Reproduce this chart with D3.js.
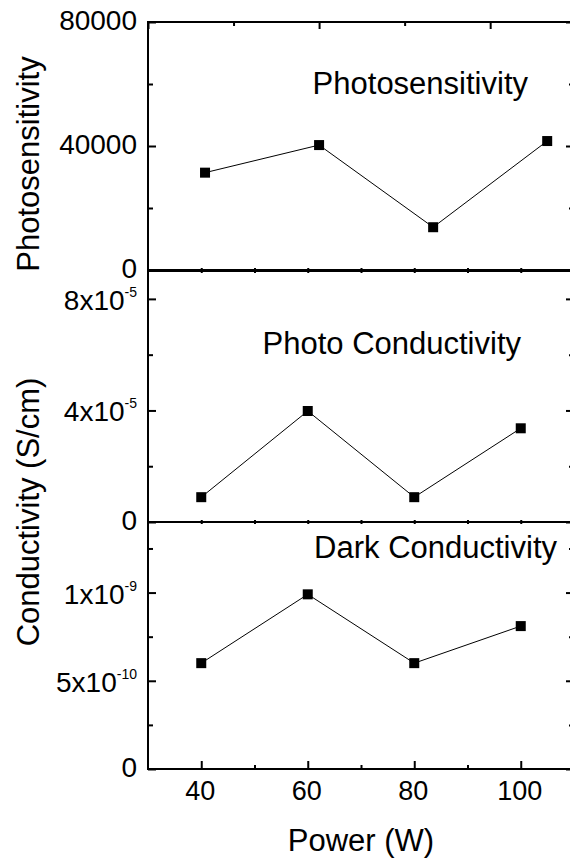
<!DOCTYPE html>
<html>
<head>
<meta charset="utf-8">
<script src="https://cdn.jsdelivr.net/npm/d3@7"></script>
<style>
  html, body { margin: 0; padding: 0; background: #fff; }
  svg { display: block; }
  text { font-family: "Liberation Sans", Arial, sans-serif; fill: #000; }
</style>
</head>
<body>
<svg id="chart" width="570" height="862"></svg>
<script>
// Sputtering power (W) for each sample
const power = [40, 60, 80, 100];

// Photosensitivity (photo / dark conductivity ratio)
const photosensitivity = [31400, 40300, 13800, 41600];
// Photo conductivity (S/cm)
const photoConductivity = [8.9e-6, 3.98e-5, 8.9e-6, 3.36e-5];
// Dark conductivity (S/cm)
const darkConductivity = [6.0e-10, 9.9e-10, 6.0e-10, 8.1e-10];

// Tick labels: [value, mantissa, exponent]
const ticksPhotosens = [[0, "0", null], [40000, "40000", null], [80000, "80000", null]];
const ticksPhotoCond = [[0, "0", null], [4e-5, "4x10", "-5"], [8e-5, "8x10", "-5"]];
const ticksDarkCond  = [[0, "0", null], [5e-10, "5x10", "-10"], [1e-9, "1x10", "-9"]];
const minorPhotosens = [20000, 60000];
const minorPhotoCond = [2e-5, 6e-5];
const minorDarkCond  = [2.5e-10, 7.5e-10, 1.25e-9];

const xMajor = [40, 60, 80, 100];
const xMinor = [50, 70, 90];
const xTopMajor = [30, 60, 90];
const xTopMinor = [45, 75];

const svg = d3.select("#chart");
const left = 148, right = 574;

const x = d3.scaleLinear().domain([30, 110]).range([left, right]);
// the upper panel was plotted on its own horizontal scale
const xTop = d3.scaleLinear().domain([30, 104.7]).range([left, right]);

const panels = [
  { vals: photosensitivity, domain: [0, 80000], range: [270, 22], ticks: ticksPhotosens,
    minor: minorPhotosens, label: "Photosensitivity", labelX: 528, labelY: 94, xs: xTop, top: "own" },
  { vals: photoConductivity, domain: [0, 9e-5], range: [522, 271], ticks: ticksPhotoCond,
    minor: minorPhotoCond, label: "Photo Conductivity", labelX: 521, labelY: 354, xs: x, top: "shared" },
  { vals: darkConductivity, domain: [0, 1.4e-9], range: [769, 522], ticks: ticksDarkCond,
    minor: minorDarkCond, label: "Dark Conductivity", labelX: 557, labelY: 558, xs: x, top: "shared", bottom: true }
];

const yTickFont = 28, xTickFont = 27, supFont = 14, titleFont = 31;

panels.forEach(p => {
  const y = d3.scaleLinear().domain(p.domain).range(p.range);
  const g = svg.append("g");
  const y0 = p.range[0], y1 = p.range[1];

  // left axis: major + minor ticks pointing inward
  g.append("g").attr("transform", `translate(${left},0)`)
    .call(d3.axisLeft(y).tickValues(p.ticks.map(t => t[0])).tickSizeInner(-8).tickSizeOuter(0).tickFormat(""));
  g.append("g").attr("transform", `translate(${left},0)`)
    .call(d3.axisLeft(y).tickValues(p.minor).tickSizeInner(-5).tickSizeOuter(0).tickFormat(""));
  // right axis
  g.append("g").attr("transform", `translate(${right},0)`)
    .call(d3.axisRight(y).tickValues(p.ticks.map(t => t[0])).tickSizeInner(-8).tickSizeOuter(0).tickFormat(""));
  g.append("g").attr("transform", `translate(${right},0)`)
    .call(d3.axisRight(y).tickValues(p.minor).tickSizeInner(-5).tickSizeOuter(0).tickFormat(""));

  // top axis
  if (p.top === "own") {
    g.append("g").attr("transform", `translate(0,${y1})`)
      .call(d3.axisTop(p.xs).tickValues(xTopMajor).tickSizeInner(-7).tickSizeOuter(0).tickFormat(""));
    g.append("g").attr("transform", `translate(0,${y1})`)
      .call(d3.axisTop(p.xs).tickValues(xTopMinor).tickSizeInner(-4).tickSizeOuter(0).tickFormat(""));
  } else {
    g.append("g").attr("transform", `translate(0,${y1})`)
      .call(d3.axisTop(x).tickValues(xMajor.concat(xMinor)).tickSizeInner(-2).tickSizeOuter(0).tickFormat(""));
  }
  // bottom axis
  if (p.bottom) {
    g.append("g").attr("transform", `translate(0,${y0})`)
      .call(d3.axisBottom(x).tickValues(xMajor).tickSizeInner(-8).tickSizeOuter(0).tickFormat(""));
    g.append("g").attr("transform", `translate(0,${y0})`)
      .call(d3.axisBottom(x).tickValues(xMinor).tickSizeInner(-4).tickSizeOuter(0).tickFormat(""));
  } else {
    g.append("g").attr("transform", `translate(0,${y0})`)
      .call(d3.axisBottom(x).tickValues(xMajor.concat(xMinor)).tickSizeInner(-2).tickSizeOuter(0).tickFormat(""));
  }

  g.selectAll(".domain").remove();
  g.selectAll(".tick line").attr("stroke", "#000").attr("stroke-width", 2);

  // frame
  g.append("rect").attr("x", left).attr("y", y1).attr("width", right - left).attr("height", y0 - y1)
    .attr("fill", "none").attr("stroke", "#000").attr("stroke-width", 2);

  // y tick labels with superscript exponents
  p.ticks.forEach(([v, m, e]) => {
    const t = g.append("text")
      .attr("x", left - 11).attr("y", y(v) + (e ? 11 : 8))
      .attr("text-anchor", "end").attr("font-size", yTickFont);
    t.append("tspan").text(m);
    if (e) t.append("tspan").attr("font-size", supFont).attr("dy", -13).text(e);
  });

  // series
  const line = d3.line().x((d, i) => p.xs(power[i])).y(d => y(d));
  g.append("path").datum(p.vals).attr("d", line)
    .attr("fill", "none").attr("stroke", "#000").attr("stroke-width", 1);
  g.selectAll("rect.pt").data(p.vals).enter().append("rect").attr("class", "pt")
    .attr("x", (d, i) => p.xs(power[i]) - 5).attr("y", d => y(d) - 5)
    .attr("width", 10).attr("height", 10).attr("fill", "#000");

  // panel label
  g.append("text").attr("x", p.labelX).attr("y", p.labelY)
    .attr("text-anchor", "end").attr("font-size", titleFont).text(p.label);
});

// x tick labels
svg.append("g").selectAll("text").data(xMajor).enter().append("text")
  .attr("x", d => x(d) - 1).attr("y", 800)
  .attr("text-anchor", "middle").attr("font-size", xTickFont).text(d => d);

// axis titles
svg.append("text").attr("x", 361).attr("y", 851).attr("text-anchor", "middle")
  .attr("font-size", titleFont).text("Power (W)");
svg.append("text").attr("transform", "translate(39,164) rotate(-90)").attr("text-anchor", "middle")
  .attr("font-size", titleFont).text("Photosensitivity");
svg.append("text").attr("transform", "translate(39,512) rotate(-90)").attr("text-anchor", "middle")
  .attr("font-size", titleFont).text("Conductivity (S/cm)");
</script>
</body>
</html>
